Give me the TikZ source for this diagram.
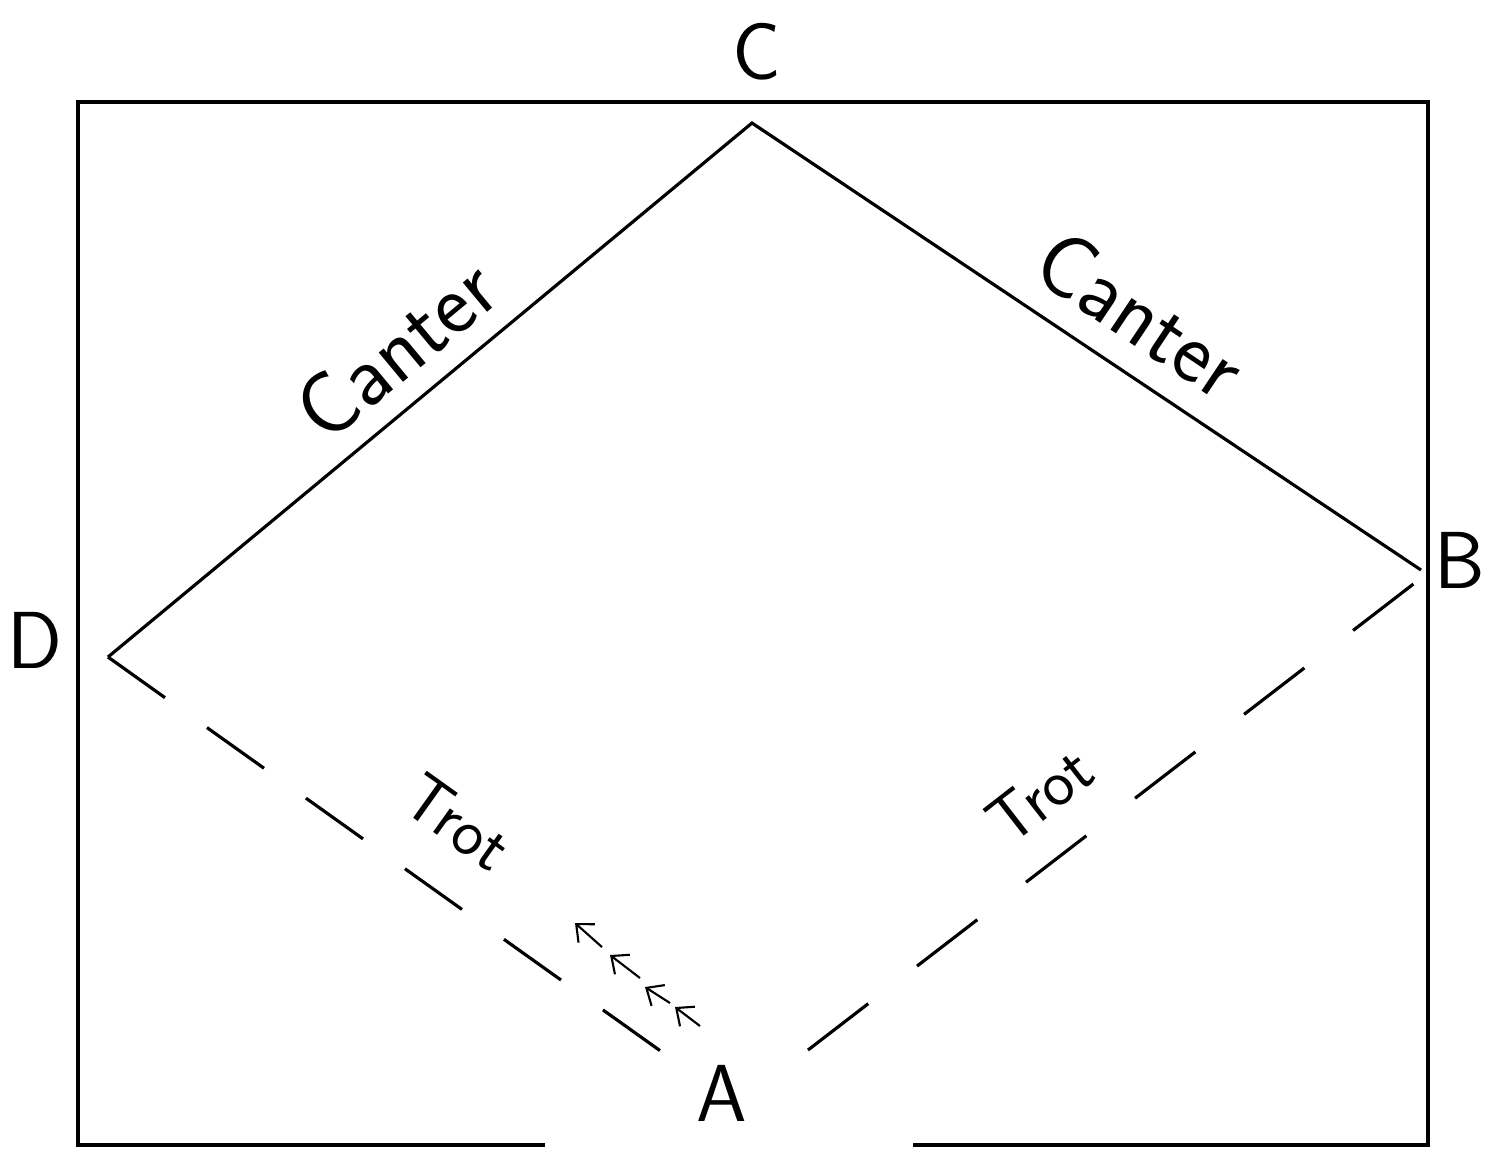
\documentclass[tikz,border=0pt]{standalone}
\usetikzlibrary{arrows.meta}
\begin{document}
\begin{tikzpicture}[x=0.01cm, y=-0.01cm,
  wall/.style={line width=1.2pt},
  canterline/.style={line width=0.9pt},
  trotline/.style 2 args={line width=0.9pt, dash pattern=on #1 off #2},
  pointlabel/.style={font=\sffamily\fontsize{23}{28}\selectfont},
  canterlabel/.style={font=\sffamily\fontsize{25}{30}\selectfont},
  trotlabel/.style={font=\sffamily\fontsize{19}{24}\selectfont},
  pace/.style={line width=0.6pt, -{Straight Barb[length=4pt, width=7pt]}}]

  \useasboundingbox (0,0) rectangle (1494,1153);

  % -- Arena walls, gate open at A --
  \draw[wall] (545,1145) -- (78,1145) -- (78,102) -- (1428,102) -- (1428,1145) -- (913,1145);

  % -- Track corners --
  \coordinate (C) at (752,123);
  \coordinate (D) at (108,657);
  \coordinate (B) at (1421,570);
  \coordinate (Bt) at (1416,582);
  \coordinate (Aw) at (662,1052);
  \coordinate (Ae) at (808,1050);

  % -- Canter --
  \draw[canterline] (D) -- (C) -- (B);
  \node[canterlabel, rotate=39.7] (canterDC) at (396,349) {Canter};
  \node[canterlabel, rotate=-33.8] (canterCB) at (1141,314) {Canter};

  % -- Trot --
  \draw[trotline={0.7cm}{0.515cm}] (D) -- (Aw);
  \draw[trotline={0.76cm}{0.615cm}] (Ae) -- (Bt);
  \node[trotlabel, rotate=-35.5] (trotDA) at (458,822) {Trot};
  \node[trotlabel, rotate=37.8] (trotAB) at (1040,795) {Trot};

  % direction of travel
  \foreach \tx/\ty/\hx/\hy in {602/947/575/923, 640/978/610/955, 670/1003/645/987, 700/1026/675/1007}
    \draw[pace] (\tx,\ty) -- (\hx,\hy);

  % Letters
  \node[pointlabel] (labelC) at (757,52) {C};
  \node[pointlabel] (labelD) at (35,640) {D};
  \node[pointlabel] (labelB) at (1460,560) {B};
  \node[pointlabel] (labelA) at (722,1093) {A};

\end{tikzpicture}
\end{document}
